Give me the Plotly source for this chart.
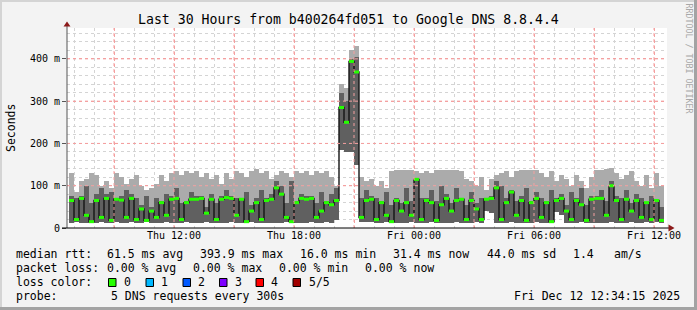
import plotly.graph_objects as go
import pandas as pd

# ---------------- data (milliseconds) ----------------
start_time = "2025-12-11 06:45"
step_minutes = 15

hi = [130, 85, 110, 115, 130, 125, 100, 110, 95, 130,
      120, 105, 115, 125, 100, 90, 95, 105, 125, 110,
      130, 135, 125, 135, 130, 135, 120, 130, 115, 125,
      105, 130, 115, 135, 130, 120, 135, 140, 130, 135,
      115, 125, 135, 130, 120, 135, 130, 135, 125, 135,
      130, 135, 120, 100, 340, 330, 420, 430, 120, 110,
      115, 100, 110, 95, 135, 137, 137, 137, 137, 135,
      130, 135, 130, 137, 137, 137, 137, 137, 135, 115,
      110, 100, 120, 90, 115, 125, 130, 135, 120, 135,
      137, 137, 137, 137, 130, 120, 135, 110, 125, 115,
      100, 125, 110, 95, 120, 137, 137, 140, 142, 130,
      115, 125, 135, 110, 100, 125, 95, 130, 100]

mid = [75, 70, 75, 100, 60, 80, 95, 80, 85, 70,
       75, 90, 80, 70, 55, 75, 50, 70, 65, 80,
       75, 95, 60, 65, 85, 75, 75, 50, 80, 60,
       75, 90, 75, 70, 70, 85, 55, 70, 90, 70,
       80, 110, 100, 60, 110, 65, 80, 75, 75, 60,
       85, 65, 80, 95, 320, 300, 400, 405, 70, 90,
       75, 70, 65, 85, 55, 70, 60, 95, 65, 118,
       70, 70, 90, 65, 100, 80, 60, 95, 70, 55,
       85, 60, 70, 70, 75, 110, 100, 70, 90, 65,
       75, 95, 65, 85, 70, 65, 90, 70, 80, 55,
       85, 70, 95, 55, 75, 75, 90, 65, 110, 75,
       70, 90, 60, 80, 70, 60, 75, 65, 50]

lo = [13, 14, 13, 13, 15, 13, 14, 13, 13, 14,
      13, 13, 15, 13, 13, 14, 13, 13, 13, 14,
      13, 13, 13, 15, 13, 13, 13, 14, 13, 13,
      13, 13, 14, 13, 13, 13, 15, 13, 13, 13,
      13, 13, 13, 14, 13, 13, 13, 13, 15, 13,
      13, 14, 13, 18, 185, 180, 180, 150, 15, 14,
      14, 13, 13, 14, 13, 13, 13, 13, 14, 13,
      13, 13, 15, 13, 13, 13, 13, 14, 13, 13,
      13, 14, 13, 40, 35, 13, 13, 13, 14, 13,
      13, 13, 13, 14, 13, 13, 13, 38, 30, 13,
      13, 13, 14, 13, 13, 13, 13, 13, 14, 13,
      13, 13, 14, 13, 13, 15, 13, 14, 13]

med = [65, 20, 70, 30, 15, 65, 25, 70, 18, 68,
       66, 25, 70, 20, 45, 18, 40, 25, 60, 30,
       68, 70, 20, 60, 68, 68, 70, 35, 68, 20,
       68, 72, 70, 30, 68, 15, 40, 60, 20, 65,
       68, 95, 80, 25, 15, 60, 70, 68, 70, 25,
       40, 60, 55, 65, 285, 250, 394, 369, 25, 65,
       68, 20, 60, 30, 15, 65, 40, 60, 30, 115,
       20, 65, 60, 18, 55, 70, 40, 65, 68, 20,
       65, 45, 20, 68, 70, 95, 20, 60, 85, 30,
       65, 18, 60, 70, 25, 60, 15, 65, 70, 40,
       20, 65, 55, 18, 68, 70, 70, 30, 100, 65,
       20, 68, 40, 65, 25, 60, 20, 65, 18]

x_range = ["2025-12-11 06:39", "2025-12-12 12:39"]
x_tickvals = ["2025-12-11 09:00", "2025-12-11 12:00", "2025-12-11 15:00",
              "2025-12-11 18:00", "2025-12-11 21:00", "2025-12-12 00:00",
              "2025-12-12 03:00", "2025-12-12 06:00", "2025-12-12 09:00",
              "2025-12-12 12:00"]
x_ticktext = ["", "Thu 12:00", "", "Thu 18:00", "", "Fri 00:00", "",
              "Fri 06:00", "", "Fri 12:00"]
y_range = [0, 473]
y_tickvals = [0, 100, 200, 300, 400]
y_ticktext = ["0", "100 m", "200 m", "300 m", "400 m"]

title_text = "Last 30 Hours from b400264fd051 to Google DNS 8.8.4.4"
y_title = "Seconds"
watermark = "RRDTOOL / TOBI OETIKER"
line1 = ["median rtt:", "61.5 ms avg", "393.9 ms max", "16.0 ms min",
         "31.4 ms now", "44.0 ms sd", "1.4", "am/s"]
line2 = ["packet loss:", "0.00 % avg", "0.00 % max", "0.00 % min", "0.00 % now"]
line3_label = "loss color:"
loss_labels = ["0", "1", "2", "3", "4", "5/5"]
line4 = ["probe:", "5 DNS requests every 300s"]
stamp = "Fri Dec 12 12:34:15 2025"

# ---------------- styles / layout positions ----------------
FONT = "DejaVu Sans Mono"
W, H = 697, 310
PL, PR, PT, PB = 67, 667, 28, 228
loss_colors = ["#26ff00", "#00b8ff", "#0059ff", "#7e00ff", "#ff0000", "#a10000"]
MAJOR_GRID = "#f4a0a0"


def px(x):
    return (x - PL) / (PR - PL)


def py(y):
    return (PB - y) / (PB - PT)


step = pd.Timedelta(minutes=step_minutes)
times = pd.date_range(start_time, periods=len(med), freq=f"{step_minutes}min")
step_ms = step_minutes * 60 * 1000

fig = go.Figure()
fig.add_trace(go.Bar(x=times, y=[h - l for h, l in zip(hi, lo)], base=lo,
                     width=step_ms, offset=0, marker_color="#ababab",
                     marker_line_width=0, hoverinfo="skip"))
fig.add_trace(go.Bar(x=times, y=[m - l for m, l in zip(mid, lo)], base=lo,
                     width=step_ms, offset=0, marker_color="#606060",
                     marker_line_width=0, hoverinfo="skip"))

# median step line (dark) with vertical transitions
sx = list(times) + [times[-1] + step]
sy = med + [med[-1]]
fig.add_trace(go.Scatter(x=sx, y=sy, mode="lines", line_shape="hv",
                         line=dict(color="#151515", width=1.4), hoverinfo="skip"))

# green median marks
gx, gy = [], []
for t, m in zip(times, med):
    gx += [t, t + step, None]
    gy += [m, m, None]
fig.add_trace(go.Scatter(x=gx, y=gy, mode="lines",
                         line=dict(color=loss_colors[0], width=3), hoverinfo="skip"))

shapes = []
# major grid drawn over the data, as rrdtool does
for tv in x_tickvals:
    shapes.append(dict(type="line", xref="x", yref="paper", x0=tv, x1=tv, y0=0, y1=1,
                       line=dict(color=MAJOR_GRID, width=1, dash="dot"), layer="above"))
for yv in y_tickvals[1:]:
    shapes.append(dict(type="line", xref="paper", yref="y", x0=0, x1=1, y0=yv, y1=yv,
                       line=dict(color=MAJOR_GRID, width=1, dash="dot"), layer="above"))
# frame of the image
shapes.append(dict(type="rect", xref="paper", yref="paper", x0=px(0), x1=px(W),
                   y0=py(2), y1=py(0), line=dict(width=0), fillcolor="#d4d4d4", layer="below"))
shapes.append(dict(type="rect", xref="paper", yref="paper", x0=px(0), x1=px(2),
                   y0=py(H), y1=py(0), line=dict(width=0), fillcolor="#d4d4d4", layer="below"))
shapes.append(dict(type="rect", xref="paper", yref="paper", x0=px(W - 3), x1=px(W),
                   y0=py(H), y1=py(0), line=dict(width=0), fillcolor="#a3a3a3", layer="below"))
shapes.append(dict(type="rect", xref="paper", yref="paper", x0=px(0), x1=px(W),
                   y0=py(H), y1=py(H - 3), line=dict(width=0), fillcolor="#a3a3a3", layer="below"))
# axis lines and arrows
shapes.append(dict(type="line", xref="paper", yref="paper", x0=px(67), x1=px(67),
                   y0=py(228), y1=py(25), line=dict(color="#555555", width=1)))
shapes.append(dict(type="line", xref="paper", yref="paper", x0=px(62), x1=px(669),
                   y0=py(228), y1=py(228), line=dict(color="black", width=1)))
shapes.append(dict(type="path", xref="paper", yref="paper",
                   path=f"M {px(67)} {py(21.5)} L {px(70.5)} {py(26.5)} L {px(63.5)} {py(26.5)} Z",
                   fillcolor="#8c1a1a", line=dict(width=0)))
shapes.append(dict(type="path", xref="paper", yref="paper",
                   path=f"M {px(674.5)} {py(228)} L {px(668.5)} {py(224.5)} L {px(668.5)} {py(231.5)} Z",
                   fillcolor="#8c1a1a", line=dict(width=0)))

annotations = []


def txt(x, y, s, size=11.5, color="black", anchor="left", angle=0):
    annotations.append(dict(x=px(x), y=py(y), xref="paper", yref="paper", text=s,
                            showarrow=False, xanchor=anchor, yanchor="middle",
                            textangle=angle, borderpad=0,
                            font=dict(family=FONT, size=size, color=color)))


txt(348.5, 19, title_text, size=13.2, anchor="center")
txt(11, 128, y_title, size=11.5, anchor="center", angle=-90)
txt(688.5, 58, watermark, size=8.3, color="#a8a8a8", anchor="center", angle=90)

for s, x in zip(line1, [15, 106, 199, 299, 392, 486, 572, 613]):
    txt(x, 254, s)
for s, x in zip(line2, [15, 106, 192, 278, 364]):
    txt(x, 268, s)
txt(15, 282, line3_label)
box_x = [108.5, 146, 183, 219.5, 256, 293]
lab_x = [122.5, 160, 196.5, 233.5, 270, 307.5]
for c, s, bx, lx in zip(loss_colors, loss_labels, box_x, lab_x):
    shapes.append(dict(type="rect", xref="paper", yref="paper", x0=px(bx), x1=px(bx + 7.5),
                       y0=py(286.5), y1=py(278.5), fillcolor=c,
                       line=dict(color="black", width=1)))
    txt(lx, 282, s)
txt(15, 296, line4[0])
txt(110, 296, line4[1])
txt(681, 296, stamp, anchor="right")

fig.update_layout(
    width=W, height=H, autosize=False,
    margin=dict(l=PL, r=W - PR, t=PT, b=H - PB, pad=0),
    paper_bgcolor="#f3f3f3", plot_bgcolor="white",
    showlegend=False, barmode="overlay", bargap=0,
    shapes=shapes, annotations=annotations,
    xaxis=dict(type="date", range=x_range, tickvals=x_tickvals, ticktext=x_ticktext,
               showgrid=True, gridcolor=MAJOR_GRID, griddash="dot", gridwidth=1,
               minor=dict(dtick=3600000, tick0="2025-12-11 00:00", showgrid=True,
                          gridcolor="#d4d4d4", griddash="dot", gridwidth=1),
               showline=False, zeroline=False, ticks="",
               tickfont=dict(family=FONT, size=10, color="black"), fixedrange=True),
    yaxis=dict(range=y_range, tickvals=y_tickvals, ticktext=y_ticktext,
               showgrid=True, gridcolor=MAJOR_GRID, griddash="dot", gridwidth=1,
               minor=dict(dtick=20, tick0=0, showgrid=True,
                          gridcolor="#d4d4d4", griddash="dot", gridwidth=1),
               showline=False, zeroline=False, ticks="outside", ticklen=4,
               tickcolor="#555555",
               tickfont=dict(family=FONT, size=10, color="black"), fixedrange=True),
)

fig.write_html("out.html")
